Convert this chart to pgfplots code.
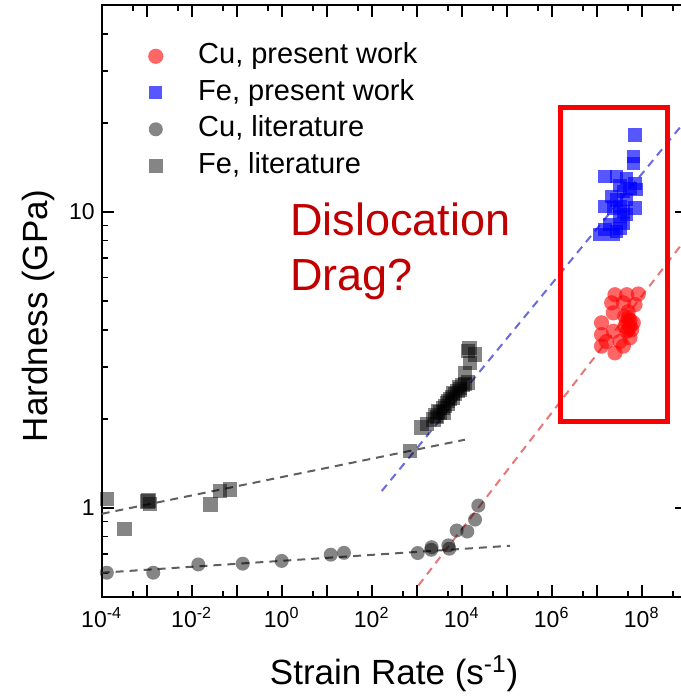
\documentclass[border=0pt]{standalone}
\usepackage{pgfplots}
\pgfplotsset{compat=1.18}
\usepackage{fontspec}
\setmainfont{Liberation Sans}
\definecolor{dred}{RGB}{192,0,0}
\definecolor{boxred}{RGB}{250,0,0}
\definecolor{dgray}{RGB}{95,95,95}
\definecolor{lblue}{RGB}{105,105,225}
\definecolor{lred}{RGB}{232,120,120}
\begin{document}
\begin{tikzpicture}
\begin{axis}[
  scale only axis,
  width=292.5pt, height=296pt,
  xmode=log, ymode=log,
  xmin=1e-4, xmax=1e9, ymin=0.5, ymax=50,
  xtick={1e-4,1e-3,1e-2,1e-1,1,10,100,1e3,1e4,1e5,1e6,1e7,1e8,1e9},
  xticklabels={10\textsuperscript{-4},,10\textsuperscript{-2},,10\textsuperscript{0},,10\textsuperscript{2},,10\textsuperscript{4},,10\textsuperscript{6},,10\textsuperscript{8},},
  minor xtick={5e-4,5e-3,5e-2,0.5,5,50,500,5e3,5e4,5e5,5e6,5e7,5e8},
  ytick={1,10}, yticklabels={1,10},
  minor ytick={0.6,0.7,0.8,0.9,2,3,4,5,6,7,8,9,20,30,40},
  tick align=inside,
  major tick length=6pt, minor tick length=3pt,
  every tick/.style={black, line width=0.9pt},
  axis line style={line width=1pt},
  tick label style={font=\fontsize{11.5}{13}\selectfont},
  xticklabel style={anchor=base, yshift=-15pt},
  xlabel={Strain Rate (s\textsuperscript{-1})},
  ylabel={Hardness (GPa)},
  label style={font=\fontsize{17.5}{20}\selectfont},
  xlabel style={at={(axis description cs:0.5,-0.1486)}, anchor=base},
  ylabel style={at={(axis description cs:-0.0918,0.475)}, anchor=base},
  legend cell align=left,
  legend image code/.code={\path (0pt,0pt) (28pt,0pt); \draw[#1] plot coordinates {(7pt,0pt)};},
  legend style={at={(rel axis cs:0,1)}, anchor=north west, xshift=19.65pt, yshift=-18.7pt,
    draw=none, fill=none, inner sep=0pt, row sep=4.75pt,
    font=\fontsize{14.5}{17}\selectfont,
    nodes={inner sep=0pt, text height=10.5pt, text depth=3pt}},
]
% fit lines
\addplot[forget plot, dgray, line width=1pt, dash pattern=on 4pt off 3pt] coordinates {(1e-4,0.955) (1.18e4,1.70)};
\addplot[forget plot, dgray, line width=1pt, dash pattern=on 4pt off 3pt] coordinates {(1e-4,0.604) (1.18e5,0.745)};
\addplot[forget plot, lblue, line width=1pt, dash pattern=on 4pt off 3pt] coordinates {(167,1.14) (7.1e8,19.3)};
\addplot[forget plot, lred, line width=1pt, dash pattern=on 4pt off 3pt] coordinates {(1.09e3,0.547) (7.1e8,7.64)};

% Cu, present work
\addplot[only marks, mark=*, mark size=3.8pt, mark options={draw opacity=0, fill=red, fill opacity=0.6}] table {
x y
2.55e7 5.25
4.65e7 5.25
8.4e7 5.28
2.15e7 4.93
3.9e7 4.93
7.1e7 4.86
2.34e7 4.56
5.0e7 4.39
6.5e7 4.22
5.5e7 4.11
1.28e7 4.22
2.34e7 3.95
1.28e7 3.85
5.5e7 3.76
3.9e7 3.52
1.28e7 3.52
2.55e7 3.34
4.2e7 4.44
4.65e7 3.95
3.3e7 3.65
1.65e7 3.65
5.0e7 4.6
5.5e7 4.3
6.0e7 4.0
5.0e7 4.0
4.2e7 4.1
4.65e7 4.25
};
\addlegendentry{Cu, present work}

% Fe, present work
\addplot[only marks, mark=square*, mark size=3.3pt, mark options={draw opacity=0, fill=blue, fill opacity=0.66}] table {
x y
7.1e7 18.2
6.5e7 15.4
6.5e7 14.6
1.53e7 13.2
2.8e7 13.2
4.65e7 13.0
7.1e7 12.5
7.7e7 11.9
3.3e7 12.3
3.9e7 11.7
2.15e7 11.3
5.5e7 12.0
4.65e7 11.0
2.78e7 10.97
2.34e7 10.3
3.3e7 10.4
7.1e7 10.3
1.53e7 10.4
3.3e7 9.64
3.9e7 9.16
1.98e7 9.04
1.53e7 8.7
1.18e7 8.37
2.34e7 8.37
3.9e7 10.0
4.65e7 9.8
3.3e7 8.8
2.78e7 8.6
};
\addlegendentry{Fe, present work}

% Cu, literature
\addplot[only marks, mark=*, mark size=3.5pt, mark options={draw opacity=0, fill=black, fill opacity=0.48}] table {
x y
1.3e-4 0.604
1.4e-3 0.604
0.014 0.644
0.136 0.648
1.0 0.662
12.3 0.695
24.2 0.705
1050 0.704
2150 0.737
2100 0.722
5040 0.747
5300 0.728
7740 0.839
13300 0.832
19800 0.913
23400 1.018
};
\addlegendentry{Cu, literature}

% Fe, literature
\addplot[only marks, mark=square*, mark size=3.6pt, mark options={draw opacity=0, fill=black, fill opacity=0.48}] table {
x y
1.3e-4 1.07
3.2e-4 0.85
1.09e-3 1.06
1.18e-3 1.03
1.05e-3 1.05
0.0264 1.026
0.0426 1.138
0.071 1.153
710 1.56
1290 1.87
1670 1.92
2340 1.99
3300 2.10
4250 2.21
5500 2.33
7100 2.42
9160 2.51
11800 2.62
14000 2.65
11800 2.86
15300 3.09
14000 3.39
19800 3.30
15000 3.47
2800 2.03
3800 2.18
4800 2.25
6300 2.36
8000 2.48
3000 2.12
5000 2.30
6500 2.45
9000 2.55
10500 2.60
4000 2.10
2600 2.05
};
\addlegendentry{Fe, literature}

% annotation box and text
\draw[boxred, line width=2.5pt] (axis cs:1.53e6,1.963) rectangle (axis cs:3.84e8,22.57);
\node[anchor=north west, inner sep=0pt, align=left, text=dred, font=\fontsize{22.5}{27.5}\selectfont] at (axis cs:1.53,10.72) {Dislocation\\Drag?};
\end{axis}
\pgfresetboundingbox
\useasboundingbox (-50.85pt,-51.5pt) rectangle (289.15pt,298.5pt);
\end{tikzpicture}
\end{document}
